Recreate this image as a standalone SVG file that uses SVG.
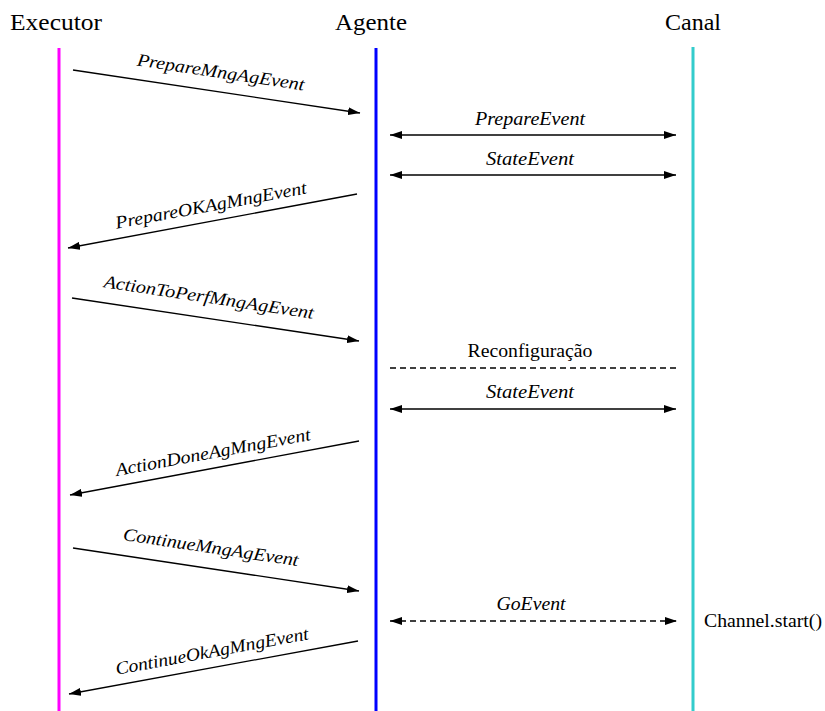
<svg xmlns="http://www.w3.org/2000/svg" width="825" height="711" viewBox="0 0 825 711">
<style>
.msg{stroke:#000;stroke-width:1.3;fill:none}
.dash{stroke-dasharray:6,4}
</style>
<defs>
<marker id="ah" viewBox="0 0 12 8" refX="12" refY="4" markerWidth="12" markerHeight="8" markerUnits="userSpaceOnUse" orient="auto-start-reverse">
<path d="M0,0 L12,4 L0,8 z" fill="#000"/>
</marker>
</defs>
<rect width="825" height="711" fill="#fff"/>
<g id="executor">
<text font-family="Liberation Serif" font-size="23" x="10" y="30" textLength="92" lengthAdjust="spacingAndGlyphs">Executor</text>
<line x1="59" y1="48" x2="59" y2="711" stroke="#ff00ff" stroke-width="3"/>
</g>
<g id="agente">
<text font-family="Liberation Serif" font-size="23" x="335" y="30" textLength="72" lengthAdjust="spacingAndGlyphs">Agente</text>
<line x1="376" y1="48" x2="376" y2="711" stroke="#0000ff" stroke-width="3"/>
</g>
<g id="canal">
<text font-family="Liberation Serif" font-size="23" x="665" y="30" textLength="56" lengthAdjust="spacingAndGlyphs">Canal</text>
<line x1="693" y1="47" x2="693" y2="711" stroke="#33cccc" stroke-width="3"/>
<text font-family="Liberation Serif" font-size="18" x="704" y="627" textLength="118" lengthAdjust="spacingAndGlyphs">Channel.start()</text>
</g>
<g id="connectors">
<line class="msg" x1="73" y1="70" x2="360" y2="113" marker-end="url(#ah)"/>
<line class="msg" x1="390" y1="135" x2="676" y2="135" marker-start="url(#ah)" marker-end="url(#ah)"/>
<line class="msg" x1="390" y1="175" x2="676" y2="175" marker-start="url(#ah)" marker-end="url(#ah)"/>
<line class="msg" x1="357" y1="194" x2="68" y2="248" marker-end="url(#ah)"/>
<line class="msg" x1="72" y1="298" x2="359" y2="341" marker-end="url(#ah)"/>
<line class="msg dash" x1="390" y1="368" x2="676" y2="368"/>
<line class="msg" x1="390" y1="409" x2="676" y2="409" marker-start="url(#ah)" marker-end="url(#ah)"/>
<line class="msg" x1="359" y1="441" x2="70" y2="495" marker-end="url(#ah)"/>
<line class="msg" x1="73" y1="548" x2="359" y2="591" marker-end="url(#ah)"/>
<line class="msg dash" x1="390" y1="621" x2="677" y2="621" marker-start="url(#ah)" marker-end="url(#ah)"/>
<line class="msg" x1="358" y1="641" x2="69" y2="694" marker-end="url(#ah)"/>
</g>
<g id="labels" font-family="Liberation Serif" font-size="18" font-style="italic" text-anchor="middle">
<text font-family="Liberation Serif" transform="translate(220,78) rotate(8.5)" textLength="169" lengthAdjust="spacingAndGlyphs">PrepareMngAgEvent</text>
<text font-family="Liberation Serif" x="530" y="125" textLength="110" lengthAdjust="spacingAndGlyphs">PrepareEvent</text>
<text font-family="Liberation Serif" x="530" y="165" textLength="88" lengthAdjust="spacingAndGlyphs">StateEvent</text>
<text font-family="Liberation Serif" transform="translate(212,211) rotate(-10.5)" textLength="194" lengthAdjust="spacingAndGlyphs">PrepareOKAgMngEvent</text>
<text font-family="Liberation Serif" transform="translate(208,303) rotate(8.6)" textLength="212" lengthAdjust="spacingAndGlyphs">ActionToPerfMngAgEvent</text>
<text font-family="Liberation Serif" font-style="normal" x="530" y="357" textLength="125" lengthAdjust="spacingAndGlyphs">Reconfiguração</text>
<text font-family="Liberation Serif" x="530" y="398" textLength="88" lengthAdjust="spacingAndGlyphs">StateEvent</text>
<text font-family="Liberation Serif" transform="translate(214,458) rotate(-10.5)" textLength="198" lengthAdjust="spacingAndGlyphs">ActionDoneAgMngEvent</text>
<text font-family="Liberation Serif" transform="translate(210,553) rotate(8.5)" textLength="177" lengthAdjust="spacingAndGlyphs">ContinueMngAgEvent</text>
<text font-family="Liberation Serif" x="531" y="610" textLength="69" lengthAdjust="spacingAndGlyphs">GoEvent</text>
<text font-family="Liberation Serif" transform="translate(213,657) rotate(-10.5)" textLength="196" lengthAdjust="spacingAndGlyphs">ContinueOkAgMngEvent</text>
</g>
</svg>
